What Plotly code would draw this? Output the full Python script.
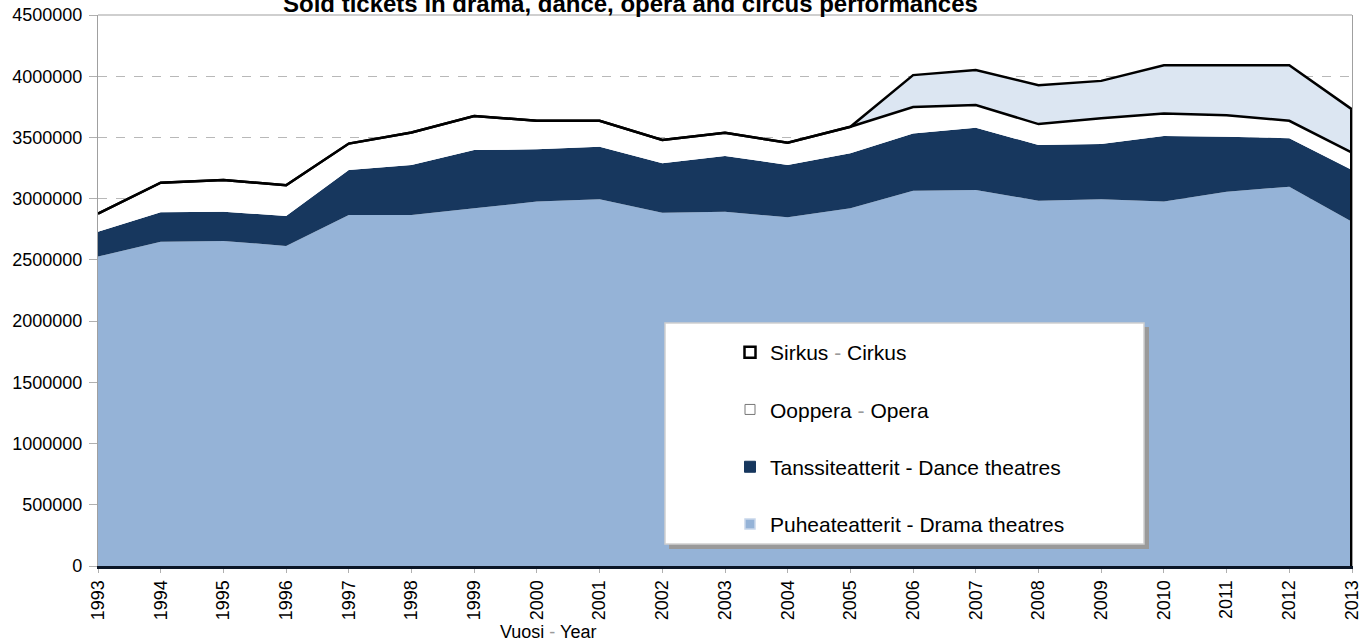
import plotly.graph_objects as go

years = list(range(1993, 2014))
# values in tickets
drama = [2527000, 2649000, 2655000, 2614000, 2867000, 2867000, 2922000, 2976000, 2995000, 2886000,
         2894000, 2848000, 2922000, 3065000, 3071000, 2984000, 2995000, 2976000, 3057000, 3098000, 2812000]
dance = [203000, 241000, 239000, 245000, 367000, 408000, 475000, 427000, 429000, 403000,
         454000, 427000, 448000, 468000, 508000, 454000, 451000, 535000, 449000, 395000, 422000]
opera = [148000, 240000, 258000, 251000, 216000, 265000, 278000, 233000, 212000, 190000,
         190000, 182000, 217000, 215000, 185000, 171000, 210000, 185000, 176000, 143000, 141000]
circus = [0, 0, 0, 0, 0, 0, 0, 0, 0, 0,
          0, 0, 0, 261000, 286000, 318000, 306000, 394000, 408000, 454000, 354000]

y_ticks = [0, 500000, 1000000, 1500000, 2000000, 2500000, 3000000, 3500000, 4000000, 4500000]

labels = {
    "circus": "Sirkus <span style='color:#9a9a9a'>-</span> Cirkus",
    "opera": "Ooppera <span style='color:#9a9a9a'>-</span> Opera",
    "dance": "Tanssiteatterit - Dance theatres",
    "drama": "Puheateatterit - Drama theatres",
}
title_text = "Sold tickets in drama, dance, opera and circus performances"
xtitle_text = "Vuosi <span style='color:#9a9a9a'>-</span> Year"

W, H = 1370, 644
ML, MR, MT, MB = 98, 18, 15, 78
PW, PH = W - ML - MR, H - MT - MB


def px(x):
    return (x - ML) / PW


def py(y):
    return (H - MB - y) / PH


FONT = "Liberation Sans, Arial, sans-serif"
DRAMA_C = "#95B3D7"
DANCE_C = "#17375E"
CIRCUS_C = "#DCE6F2"

fig = go.Figure()
fig.add_trace(go.Scatter(x=years, y=drama, stackgroup="s", mode="lines",
                         line=dict(width=0, color=DRAMA_C), fillcolor=DRAMA_C,
                         showlegend=False, hoverinfo="skip"))
fig.add_trace(go.Scatter(x=years, y=dance, stackgroup="s", mode="lines",
                         line=dict(width=0, color=DANCE_C), fillcolor=DANCE_C,
                         showlegend=False, hoverinfo="skip"))
fig.add_trace(go.Scatter(x=years, y=opera, stackgroup="s", mode="lines",
                         line=dict(width=2.5, color="black"), fillcolor="white",
                         showlegend=False, hoverinfo="skip"))
fig.add_trace(go.Scatter(x=years, y=circus, stackgroup="s", mode="lines",
                         line=dict(width=2.5, color="black"), fillcolor=CIRCUS_C,
                         showlegend=False, hoverinfo="skip"))
last_total = drama[-1] + dance[-1] + opera[-1] + circus[-1]
fig.add_trace(go.Scatter(x=[years[-1], years[-1]], y=[0, last_total], mode="lines",
                         line=dict(width=4, color="black"), showlegend=False, hoverinfo="skip"))

# legend entries
leg = [
    ("circus", dict(symbol="square", size=11, color="white", line=dict(color="black", width=2.5))),
    ("opera", dict(symbol="square", size=10, color="white", line=dict(color="#777777", width=1))),
    ("dance", dict(symbol="square", size=11, color=DANCE_C, line=dict(color=DANCE_C, width=1))),
    ("drama", dict(symbol="square", size=10, color=DRAMA_C, line=dict(color="#C8D6EA", width=1.5))),
]
for key, mk in leg:
    fig.add_trace(go.Scatter(x=[None], y=[None], mode="markers", marker=mk,
                             name=labels[key], legendgroup=key, showlegend=True))

shapes = [
    # legend box shadow and box
    dict(type="rect", xref="paper", yref="paper", x0=px(669), x1=px(1149), y0=py(549), y1=py(327),
         fillcolor="#9a9a9a", line=dict(width=0), layer="above"),
    dict(type="rect", xref="paper", yref="paper", x0=px(665), x1=px(1144), y0=py(544), y1=py(323),
         fillcolor="white", line=dict(color="#d0d0d0", width=1.5), layer="above"),
    # top border
    dict(type="line", xref="paper", yref="paper", x0=0, x1=1, y0=1, y1=1,
         line=dict(color="#a0a0a0", width=1.2), layer="above"),
]

fig.update_layout(
    width=W, height=H,
    margin=dict(l=ML, r=MR, t=MT, b=MB, pad=0, autoexpand=False),
    paper_bgcolor="white", plot_bgcolor="white",
    font=dict(family=FONT, color="black", size=18),
    showlegend=True,
    legend=dict(x=px(730), y=py(332), xanchor="left", yanchor="top",
                bgcolor="rgba(0,0,0,0)", borderwidth=0,
                font=dict(family=FONT, size=21, color="black"),
                traceorder="grouped", tracegroupgap=27, itemwidth=30),
    xaxis=dict(range=[years[0], years[-1]], tickmode="array", tickvals=years,
               ticktext=[str(y) for y in years], tickangle=-90, automargin=False,
               tickfont=dict(family=FONT, size=18, color="black"),
               showgrid=False, zeroline=False, showline=True, linecolor="#0b1626", linewidth=3,
               ticks="outside", ticklen=4, tickcolor="#b0b0b0", layer="above traces"),
    yaxis=dict(range=[0, 4500000], tickmode="array", tickvals=y_ticks, automargin=False,
               ticktext=[str(v) for v in y_ticks],
               tickfont=dict(family=FONT, size=18, color="black"),
               showgrid=True, gridcolor="#b8b8b8", griddash="dash", gridwidth=1,
               zeroline=False, showline=True, mirror=True, linecolor="#a0a0a0", linewidth=1.2,
               ticks="outside", ticklen=8, tickcolor="#b0b0b0", ticklabelstandoff=3,
               layer="below traces"),
    shapes=shapes,
    annotations=[
        dict(text="<b>" + title_text + "</b>", xref="paper", yref="paper",
             x=px(630), y=py(3), xanchor="center", yanchor="middle", showarrow=False,
             font=dict(family=FONT, size=24, color="black")),
        dict(text=xtitle_text, xref="paper", yref="paper",
             x=px(548), y=py(632), xanchor="center", yanchor="middle", showarrow=False,
             font=dict(family=FONT, size=18, color="black")),
    ],
)

fig.write_html("out.html", config={"displayModeBar": False},
               post_script="document.body.style.margin='0';")
